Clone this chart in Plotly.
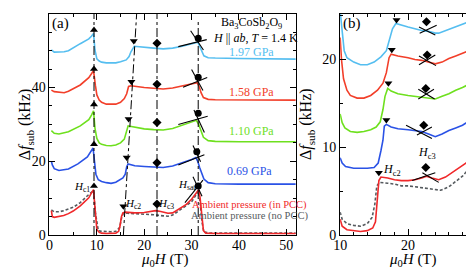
import plotly.graph_objects as go

# ---------------- Panel (a) data ----------------
a_x_amb = [0.4, 0.6, 1.0, 2, 3, 4, 5, 6.5, 8.3, 8.9, 9.3, 9.6, 10.0, 10.5, 11, 12, 13, 14, 14.6, 14.9, 15.2, 15.5, 16, 17, 18, 20, 22.4, 23.5, 25, 26, 27.2, 28.9, 30, 31, 31.5, 31.8, 32.1, 32.5, 33, 35, 40, 45, 50, 52]
a_y_amb = [6.6, 5.0, 4.8, 5.0, 5.3, 5.8, 6.5, 7.9, 10.1, 11.5, 12.3, 7.5, 1.5, 0.7, 0.5, 0.4, 0.4, 0.5, 1.0, 2.5, 5.0, 6.0, 6.2, 6.1, 6.0, 6.1, 6.6, 6.4, 5.9, 6.0, 7.0, 8.3, 9.7, 11.4, 12.3, 10.0, 5.5, 1.2, 0.5, 0.4, 0.4, 0.4, 0.4, 0.4]
a_x_nopcc = [0.4, 1.0, 2, 3, 5, 6.5, 8.3, 9.0, 9.3, 9.7, 10.3, 11, 12, 13, 14, 14.8, 15.2, 15.6, 16.5, 18, 20, 22, 24, 25, 26, 27, 28.5, 30, 31, 31.4, 31.8, 32.2, 32.6, 34, 40, 50, 52]
a_y_nopcc = [6.8, 6.3, 6.3, 6.6, 7.5, 8.8, 11.0, 11.8, 12.0, 6.0, 1.2, 1.0, 0.9, 0.9, 1.0, 2.0, 4.5, 5.9, 5.9, 5.8, 5.7, 5.5, 5.2, 5.1, 5.4, 6.3, 7.6, 9.0, 11.0, 12.0, 9.0, 3.5, 0.8, 0.5, 0.5, 0.5, 0.5]
a_x_069 = [0.4, 0.6, 1, 2, 4, 6, 8, 8.8, 9.2, 9.5, 9.8, 10.3, 11, 12, 13, 14, 15, 15.5, 16, 16.3, 16.6, 17, 18, 20, 22, 24, 26, 28, 30, 30.9, 31.3, 31.7, 32.1, 32.6, 33.5, 35, 40, 45, 50, 52]
a_y_069 = [20.0, 19.0, 18.0, 17.5, 17.9, 19.3, 21.2, 22.6, 23.6, 20.0, 16.5, 15.0, 14.5, 14.2, 14.0, 14.3, 15.0, 15.5, 16.5, 18.5, 19.3, 19.2, 18.8, 18.6, 18.4, 18.3, 18.7, 19.5, 20.5, 21.0, 20.0, 18.3, 16.8, 15.2, 14.2, 13.9, 13.8, 13.8, 13.8, 13.8]
a_x_110 = [0.4, 1, 2, 4, 6.5, 8.3, 8.9, 9.3, 9.6, 10.0, 10.5, 11, 12, 13, 14, 15, 15.8, 16.2, 16.6, 17, 18, 20, 22, 24, 26, 28, 30, 31.0, 31.5, 32.0, 32.5, 33.5, 35, 40, 45, 50, 52]
a_y_110 = [28.3, 27.6, 27.4, 28.0, 29.6, 31.3, 32.6, 33.7, 29.0, 26.2, 25.0, 24.6, 24.3, 24.2, 24.4, 25.0, 26.0, 27.5, 29.6, 29.5, 29.2, 28.8, 28.6, 28.5, 28.9, 29.7, 30.6, 31.1, 30.0, 28.0, 26.5, 25.6, 25.4, 25.3, 25.3, 25.3, 25.3]
a_x_158 = [0.4, 1, 3.1, 4, 6.5, 8.3, 8.9, 9.3, 9.7, 10.0, 10.5, 11, 12, 13, 14, 15, 15.8, 16.3, 16.7, 17.2, 18, 20, 22, 24, 26, 28, 30, 31.2, 31.6, 32.0, 32.5, 33.5, 35, 40, 45, 50, 52]
a_y_158 = [39.3, 38.9, 38.6, 39.0, 40.7, 42.7, 43.8, 44.6, 40.5, 38.0, 36.6, 36.0, 35.5, 35.4, 35.5, 36.0, 37.0, 38.3, 40.3, 40.5, 40.3, 40.0, 39.8, 39.6, 39.9, 40.5, 41.0, 41.3, 40.3, 38.6, 37.3, 36.8, 36.7, 36.7, 36.7, 36.6, 36.6]
a_x_197 = [0.4, 1, 3.1, 4, 6.5, 8.3, 8.9, 9.3, 9.6, 10.0, 10.5, 11, 12, 13, 14, 15, 16.2, 16.8, 17.2, 17.9, 18.5, 20, 22, 24, 26, 28, 30, 31.3, 31.7, 32.1, 32.6, 33.5, 35, 40, 45, 50, 52]
a_y_197 = [50.2, 49.6, 49.7, 50.0, 51.9, 53.2, 54.0, 54.7, 50.2, 47.8, 47.2, 46.9, 46.7, 46.6, 46.7, 47.0, 47.5, 48.4, 49.7, 51.2, 51.1, 50.9, 50.7, 50.5, 50.7, 51.2, 51.8, 52.3, 51.2, 49.8, 48.6, 48.1, 48.0, 47.9, 47.8, 47.8, 47.7]

# critical-field markers (a): order 1.97, 1.58, 1.10, 0.69, ambient
a_hc1_x = [9.4, 9.4, 9.4, 9.4, 9.4]
a_hc1_y = [55.6, 45.0, 35.4, 24.6, 13.3]
a_hc2_x = [17.8, 17.3, 16.7, 16.3, 15.6]
a_hc2_y = [52.6, 41.6, 31.5, 21.0, 7.8]
a_hc3_x = [22.7, 22.7, 22.7, 22.7, 22.7]
a_hc3_y = [52.0, 40.9, 30.5, 19.6, 8.4]
a_hsat_x = [31.4, 31.4, 31.4, 31.1, 31.4]
a_hsat_y = [53.4, 42.8, 33.0, 22.6, 13.3]

# guide lines (a)
a_hc1_line = [9.4, 9.4]
a_hc2_line = [15.6, 18.4]
a_hc3_line = [22.7, 22.7]
a_hsat_line = [31.4, 31.4]
a_guide_y = [0, 60]
a_hsat_guide_y = [0, 58.5]

# tangent lines at Hsat (a): [x0, x1], [y0, y1]
a_tan_x = [[27.2, 33.2], [29.8, 32.5], [28.2, 33.3], [30.0, 32.4], [27.2, 33.4], [30.5, 32.7],
           [27.2, 32.7], [30.3, 31.9], [28.6, 32.4], [30.3, 32.2]]
a_tan_y = [[51.1, 53.0], [55.4, 50.2], [40.1, 42.7], [44.9, 39.2], [30.0, 32.2], [33.9, 27.8],
           [19.0, 21.8], [24.3, 19.9], [8.8, 14.9], [15.8, 10.5]]

# ---------------- Panel (b) data ----------------
b_x_197 = [10.0, 10.3, 10.6, 11.0, 12, 13, 14, 15, 16, 16.8, 17.3, 17.7, 18.2, 19, 20, 21, 22, 23, 24, 24.5, 25.5, 27, 28, 29, 30]
b_y_197 = [25.5, 22.8, 21.0, 20.2, 19.7, 19.4, 19.4, 19.7, 20.3, 21.0, 22.3, 23.5, 24.1, 23.9, 23.7, 23.5, 23.3, 23.2, 23.0, 23.0, 23.3, 23.7, 24.0, 24.3, 24.9]
b_x_158 = [10.0, 10.2, 10.5, 11.0, 11.5, 12.5, 13.5, 14.5, 15.5, 16.3, 16.8, 17.2, 17.5, 18.5, 20, 21, 22, 23, 24, 25, 26, 27, 28, 29, 30]
b_y_158 = [22.5, 20.0, 17.8, 16.5, 15.9, 15.6, 15.6, 15.9, 16.5, 17.3, 18.5, 20.2, 20.6, 20.4, 20.2, 20.0, 19.9, 19.7, 19.5, 19.7, 20.1, 20.4, 20.7, 21.0, 21.4]
b_x_110 = [10.0, 10.3, 10.7, 11.5, 12.5, 13.5, 14.5, 15.3, 15.9, 16.3, 16.6, 17.0, 17.5, 18.5, 20, 21, 22, 23, 24, 25, 26, 27, 28, 29, 30]
b_y_110 = [13.8, 12.8, 12.2, 11.8, 11.7, 11.8, 12.0, 12.3, 12.9, 14.3, 15.8, 16.7, 16.4, 16.1, 15.9, 15.8, 15.7, 15.6, 15.5, 15.8, 16.1, 16.5, 16.8, 17.2, 17.8]
b_x_069 = [10.0, 10.3, 10.8, 12, 13, 14, 15, 15.6, 16.0, 16.3, 16.5, 16.8, 17.5, 18.5, 20, 21, 22, 23, 24, 25, 26, 27, 28, 29, 30]
b_y_069 = [8.8, 8.2, 7.8, 7.6, 7.6, 7.6, 7.7, 8.2, 9.6, 10.8, 12.4, 12.6, 12.3, 12.1, 12.0, 11.9, 11.8, 11.5, 11.2, 11.5, 11.9, 12.2, 12.5, 13.0, 13.6]
b_x_amb = [10.0, 10.3, 11, 12, 13, 14, 14.8, 15.2, 15.5, 15.7, 16, 17, 18, 19, 20, 21, 22, 22.7, 23.5, 24.5, 25.5, 26.5, 27.5, 28.5, 29.3, 30]
b_y_amb = [1.8, 1.0, 0.6, 0.5, 0.4, 0.5, 0.8, 1.5, 4.0, 6.2, 6.6, 6.5, 6.3, 6.2, 6.2, 6.3, 6.5, 6.7, 6.5, 6.3, 6.6, 7.1, 7.6, 8.2, 8.8, 9.6]
b_x_nopcc = [10.0, 10.3, 11, 12, 13, 14, 14.7, 15.1, 15.4, 15.8, 17, 18, 19, 20, 21, 22, 23, 24, 24.8, 26, 27, 28, 29, 30]
b_y_nopcc = [2.6, 1.8, 1.3, 1.1, 1.0, 1.3, 2.0, 3.5, 5.6, 6.0, 5.9, 5.8, 5.6, 5.6, 5.5, 5.4, 5.3, 5.2, 5.1, 5.5, 6.1, 6.7, 7.6, 8.9]

b_hc2_x = [18.3, 17.6, 17.1, 16.8, 15.7]
b_hc2_y = [24.5, 21.1, 17.3, 13.1, 7.1]
b_hc3_x = [22.7, 22.8, 22.6, 22.3, 22.6]
b_hc3_y = [24.3, 20.5, 16.7, 12.5, 7.7]

# crossing lines at Hc3 (b)
b_tan_x = [[21.6, 24.0], [21.7, 24.2], [21.6, 24.1], [21.6, 24.0], [21.5, 23.9], [21.5, 23.8],
           [19.7, 23.5], [21.3, 23.5], [20.6, 24.0], [22.1, 24.5]]
b_tan_y = [[23.7, 22.8], [23.0, 23.9], [20.4, 19.3], [19.4, 20.5], [16.6, 15.5], [15.5, 16.6],
           [12.5, 11.0], [11.4, 12.3], [6.2, 7.1], [7.1, 6.0]]

# ---------------- styles ----------------
C197 = "#55BEF0"
C158 = "#F23F2A"
C110 = "#6EE01E"
C069 = "#2A52E6"
CAMB = "#F0282A"
CGRY = "#555A5E"
FONT = "'Liberation Serif', 'Times New Roman', 'DejaVu Serif', serif"

fig = go.Figure()

def line(x, y, color, xa, ya, dash=None, width=1.6):
    fig.add_trace(go.Scatter(x=x, y=y, mode="lines", xaxis=xa, yaxis=ya,
                             line=dict(color=color, width=width, dash=dash),
                             showlegend=False, hoverinfo="skip"))

# panel (a) curves
line(a_x_nopcc, a_y_nopcc, CGRY, "x", "y", dash="3px,2px", width=1.6)
line(a_x_amb, a_y_amb, CAMB, "x", "y")
line(a_x_069, a_y_069, C069, "x", "y")
line(a_x_110, a_y_110, C110, "x", "y")
line(a_x_158, a_y_158, C158, "x", "y")
line(a_x_197, a_y_197, C197, "x", "y")

# guides (a)
gd = dict(color="black", width=1, dash="dashdot")
for gx, gy in [(a_hc1_line, a_guide_y), (a_hc2_line, a_guide_y), (a_hc3_line, a_guide_y), (a_hsat_line, a_hsat_guide_y)]:
    fig.add_trace(go.Scatter(x=gx, y=gy, mode="lines", xaxis="x", yaxis="y", line=gd,
                             showlegend=False, hoverinfo="skip"))
for tx, ty in zip(a_tan_x, a_tan_y):
    line(tx, ty, "black", "x", "y", width=1.1)

def marks(x, y, sym, xa, ya, size=7):
    fig.add_trace(go.Scatter(x=x, y=y, mode="markers", xaxis=xa, yaxis=ya,
                             marker=dict(symbol=sym, color="black", size=size),
                             showlegend=False, hoverinfo="skip"))

marks(a_hc1_x, a_hc1_y, "triangle-up", "x", "y")
marks(a_hc2_x, a_hc2_y, "triangle-down", "x", "y")
marks(a_hc3_x, a_hc3_y, "diamond", "x", "y")
marks(a_hsat_x, a_hsat_y, "circle", "x", "y")

# panel (b) curves
line(b_x_nopcc, b_y_nopcc, CGRY, "x2", "y2", dash="3px,2px", width=1.6)
line(b_x_amb, b_y_amb, CAMB, "x2", "y2")
line(b_x_069, b_y_069, C069, "x2", "y2")
line(b_x_110, b_y_110, C110, "x2", "y2")
line(b_x_158, b_y_158, C158, "x2", "y2")
line(b_x_197, b_y_197, C197, "x2", "y2")
for tx, ty in zip(b_tan_x, b_tan_y):
    line(tx, ty, "black", "x2", "y2", width=1.1)
marks(b_hc2_x, b_hc2_y, "triangle-down", "x2", "y2")
marks(b_hc3_x, b_hc3_y, "diamond", "x2", "y2")

W, H = 474, 268
def px(xp): return xp / W
def py(yp): return 1 - yp / H

axis_common = dict(showline=True, linecolor="black", linewidth=1, mirror="ticks",
                   ticks="inside", ticklen=6, tickwidth=1, tickcolor="black",
                   showgrid=False, zeroline=False,
                   tickfont=dict(family=FONT, size=14, color="black"))

fig.update_layout(
    width=W, height=H, margin=dict(l=0, r=0, t=0, b=0),
    paper_bgcolor="white", plot_bgcolor="white",
    font=dict(family=FONT, color="black"),
    xaxis=dict(domain=[px(35), px(285)], range=[0, 52], dtick=10, anchor="y", ticklabelstandoff=-3,
               minor=dict(dtick=5, ticklen=3, ticks="inside", tickcolor="black"), **axis_common),
    yaxis=dict(domain=[py(234), py(6)], range=[0, 60], dtick=20, anchor="x",
               minor=dict(dtick=5, ticklen=3, ticks="inside", tickcolor="black"), **axis_common),
    xaxis2=dict(domain=[px(330), px(468)], range=[10, 30], dtick=10, anchor="y2", ticklabelstandoff=-3,
                minor=dict(dtick=2, ticklen=3, ticks="inside", tickcolor="black"), **axis_common),
    yaxis2=dict(domain=[py(234), py(6)], range=[0, 25.2], dtick=10, anchor="x2",
                minor=dict(dtick=5, ticklen=3, ticks="inside", tickcolor="black"), **axis_common),
)

ann = []
def t(x, y, text, size=12, color="black", xref="paper", yref="paper", xanchor="center", angle=0):
    ann.append(dict(x=x, y=y, xref=xref, yref=yref, text=text, showarrow=False,
                    font=dict(family=FONT, size=size, color=color), xanchor=xanchor,
                    yanchor="middle", textangle=angle))

# axis titles
t(px(11), py(120), "Δ<i>f</i><sub>sub</sub> (kHz)", size=16, angle=-90)
t(px(296), py(120), "Δ<i>f</i><sub>sub</sub> (kHz)", size=16, angle=-90)
t(px(152), py(260), "<i>μ</i><sub>0</sub><i>H</i> (T)", size=15)
t(px(404), py(260), "<i>μ</i><sub>0</sub><i>H</i> (T)", size=15)

# panel labels
t(px(46), py(16), "(a)", size=15)
t(px(342), py(16), "(b)", size=15)

# header text (a)
t(px(240), py(15), "Ba<sub>3</sub>CoSb<sub>2</sub>O<sub>9</sub>", size=12)
t(px(244), py(31), "<i>H</i> || <i>ab</i>, <i>T</i> = 1.4 K", size=12)

# pressure labels
t(px(240), py(45), "1.97 GPa", size=12, color=C197)
t(px(240), py(87), "1.58 GPa", size=12, color=C158)
t(px(240), py(127), "1.10 GPa", size=12, color=C110)
t(px(238), py(168), "0.69 GPa", size=12, color=C069)
t(px(238), py(203), "Ambient pressure (in PCC)", size=10.5, color=CAMB)
t(px(238), py(214), "Ambient pressure (no PCC)", size=10.5, color=CGRY)

# critical field labels (a)
t(px(68), py(184), "<i>H</i><sub>c1</sub>", size=11)
t(px(120), py(202), "<i>H</i><sub>c2</sub>", size=11)
t(px(153), py(202), "<i>H</i><sub>c3</sub>", size=11)
t(px(175), py(182), "<i>H</i><sub>sat</sub>", size=11)
# (b)
t(px(383), py(167), "<i>H</i><sub>c2</sub>", size=12)
t(px(418), py(149), "<i>H</i><sub>c3</sub>", size=12)

fig.update_layout(annotations=ann)
fig.write_html("out.html")
